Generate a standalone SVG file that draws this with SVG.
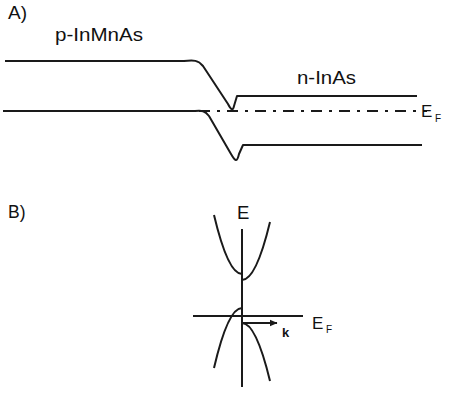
<svg xmlns="http://www.w3.org/2000/svg" width="450" height="394" viewBox="0 0 450 394">
<style>
text{font-family:"Liberation Sans",Arial,sans-serif;fill:#111}
.l{fill:none;stroke:#1a1a1a;stroke-width:2;stroke-linecap:butt;stroke-linejoin:round}
.d{fill:none;stroke:#1a1a1a;stroke-width:2;stroke-dasharray:11 7 3 7}
</style>
<defs>
<marker id="ah" markerWidth="8" markerHeight="8" refX="7" refY="4" orient="auto" markerUnits="userSpaceOnUse">
<path d="M0,0.8 L7.5,4 L0,7.2 Z" fill="#1a1a1a"/>
</marker>
</defs>
<g id="panelA">
<text x="8" y="19" font-size="19">A)</text>
<text x="55" y="41" font-size="18.5" textLength="88" lengthAdjust="spacingAndGlyphs">p-InMnAs</text>
<text x="297" y="84" font-size="18" textLength="59" lengthAdjust="spacingAndGlyphs">n-InAs</text>
<g id="fermi-level">
<path class="d" d="M3,111 L427,111"/>
<text x="421" y="117" font-size="17">E</text>
<text x="435" y="122" font-size="10">F</text>
</g>
<g id="conduction-band">
<path class="l" d="M5,61 L184,61 C194,60 198,60 203,66 L228,104 C231,110 233,111 234,106 L237,96 L417,96"/>
</g>
<g id="valence-band">
<path class="l" d="M5,111 L195,111 C202,110 205,111 209,116 L231,154 C235,161 237,163 239,154 L243,145 L422,145"/>
</g>
</g>
<g id="panelB">
<text x="8" y="218" font-size="17.5">B)</text>
<g id="axes">
<path class="l" d="M242,229 L242,387"/>
<path class="l" d="M193,316 L303,316"/>
<text x="237" y="219" font-size="18.5">E</text>
<text x="312" y="329" font-size="17">E</text>
<text x="326" y="333" font-size="10">F</text>
</g>
<g id="k-arrow">
<path class="l" d="M242,323 L277,323" marker-end="url(#ah)" stroke-width="1.5"/>
<text x="282" y="337" font-size="13" font-weight="bold">k</text>
</g>
<g id="bands">
<path class="l" d="M214,215 Q228,274 242,274"/>
<path class="l" d="M270,222 Q256,280 242,280"/>
<path class="l" d="M214,368 Q228,308 242,308"/>
<path class="l" d="M270,381 Q256,323 242,323"/>
</g>
</g>
</svg>
